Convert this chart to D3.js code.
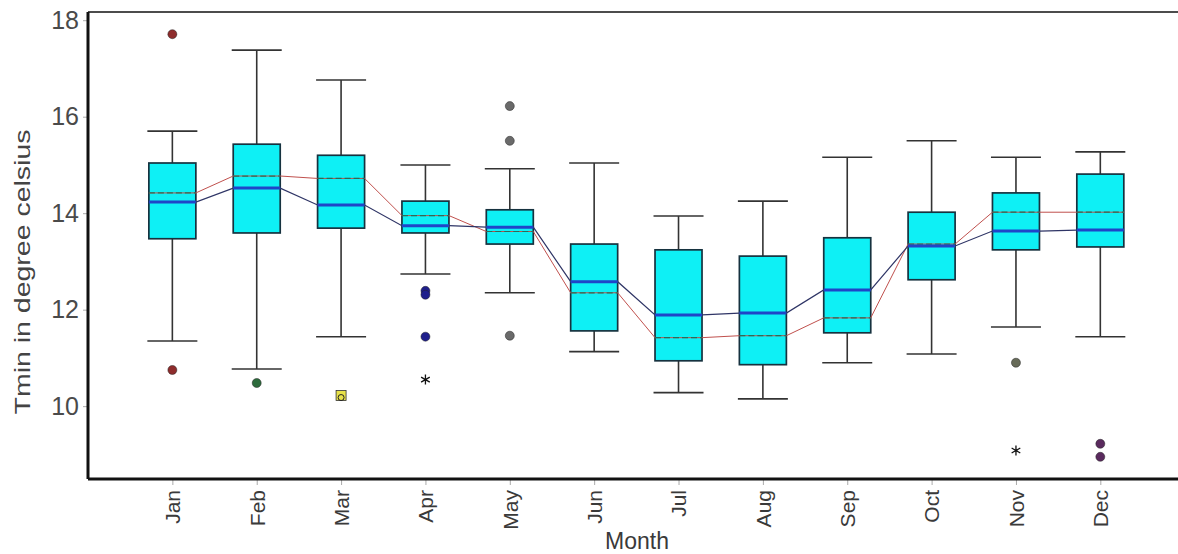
<!DOCTYPE html>
<html>
<head>
<meta charset="utf-8">
<script src="https://cdn.jsdelivr.net/npm/d3@7"></script>
<style>
  body { margin: 0; background: #fff; }
  svg text { font-family: "Liberation Sans", Arial, sans-serif; }
</style>
</head>
<body>
<div id="chart"></div>
<script>
// monthly Tmin box plot values
var months = ["Jan","Feb","Mar","Apr","May","Jun","Jul","Aug","Sep","Oct","Nov","Dec"];
var whiskerHigh = [15.70,17.38,16.76,15.00,14.92,15.04,13.94,14.25,15.16,15.50,15.16,15.27];
var q3          = [15.04,15.43,15.20,14.25,14.07,13.36,13.24,13.11,13.49,14.02,14.42,14.81];
var medians     = [14.23,14.52,14.17,13.74,13.71,12.58,11.89,11.93,12.41,13.32,13.63,13.65];
var means       = [14.42,14.77,14.72,13.95,13.62,12.35,11.42,11.46,11.83,13.36,14.02,14.02];
var q1          = [13.47,13.59,13.69,13.59,13.36,11.56,10.94,10.86,11.52,12.62,13.24,13.30];
var whiskerLow  = [11.35,10.77,11.44,12.74,12.35,11.13,10.28,10.15,10.90,11.08,11.64,11.44];

// outliers
var outMonth = ["Jan","Jan","Feb","Mar","Apr","Apr","Apr","Apr","May","May","May","Nov","Nov","Dec","Dec"];
var outValue = [17.71,10.75,10.48,10.22,12.39,12.31,11.44,10.55,16.22,15.50,11.46,10.90,9.08,9.22,8.95];
var outShape = ["circle","circle","circle","square","circle","circle","circle","star","circle","circle","circle","circle","star","circle","circle"];

var outColors = {Jan:"#8e2c2c",Feb:"#2d6b3c",Mar:"#e8e24a",Apr:"#1f1f8c",May:"#6a6a6a",Nov:"#676b58",Dec:"#5a2a5e"};

var W = 1178, H = 554;
var svg = d3.select("#chart").append("svg")
    .attr("width", W).attr("height", H);

var plotLeft = 88, plotTop = 12, plotBottom = 479;

var x = d3.scalePoint().domain(months).range([plotLeft, plotLeft + 13*84.36]).padding(1);
var y = d3.scaleLinear().domain([8.49, 18.17]).range([plotBottom, plotTop]);
var bw = 47;

// axes
var yAxis = svg.append("g").attr("transform","translate("+plotLeft+",0)")
    .call(d3.axisLeft(y).tickValues([10,12,14,16,18]).tickFormat(d3.format("d")).tickSize(5));
yAxis.select(".domain").remove();
yAxis.selectAll(".tick line").attr("stroke","#aaa");
yAxis.selectAll(".tick text").attr("font-size",25).attr("fill","#4a4a4a").attr("x",-9);

var xAxis = svg.append("g").attr("transform","translate(0,"+plotBottom+")")
    .call(d3.axisBottom(x).tickSize(6));
xAxis.select(".domain").remove();
xAxis.selectAll(".tick line").attr("stroke","#aaa");
xAxis.selectAll(".tick text")
    .attr("font-size",21).attr("fill","#3a3a3a")
    .attr("transform","rotate(-90)")
    .attr("text-anchor","end")
    .attr("x",-11).attr("y",0).attr("dy","0.35em");

// frame
svg.append("line").attr("x1",plotLeft).attr("x2",W).attr("y1",plotTop).attr("y2",plotTop)
    .attr("stroke","#111").attr("stroke-width",1.5);
svg.append("line").attr("x1",plotLeft).attr("x2",plotLeft).attr("y1",plotTop).attr("y2",plotBottom)
    .attr("stroke","#111").attr("stroke-width",3);
svg.append("line").attr("x1",plotLeft).attr("x2",W).attr("y1",plotBottom).attr("y2",plotBottom)
    .attr("stroke","#111").attr("stroke-width",3);

// axis titles
svg.append("text").attr("transform","translate(30,272) rotate(-90)")
    .attr("text-anchor","middle").attr("font-size",22).attr("fill","#444")
    .attr("textLength",285).attr("lengthAdjust","spacingAndGlyphs")
    .text("Tmin in degree celsius");
svg.append("text").attr("x", 637).attr("y",549)
    .attr("text-anchor","middle").attr("font-size",23).attr("fill","#3a3a3a")
    .text("Month");

var g = svg.append("g");

// whiskers
months.forEach(function(m,i){
  var cx = x(m);
  g.append("line").attr("x1",cx).attr("x2",cx).attr("y1",y(whiskerHigh[i])).attr("y2",y(q3[i]))
    .attr("stroke","#333").attr("stroke-width",1.6);
  g.append("line").attr("x1",cx).attr("x2",cx).attr("y1",y(q1[i])).attr("y2",y(whiskerLow[i]))
    .attr("stroke","#333").attr("stroke-width",1.6);
  g.append("line").attr("x1",cx-25).attr("x2",cx+25).attr("y1",y(whiskerHigh[i])).attr("y2",y(whiskerHigh[i]))
    .attr("stroke","#333").attr("stroke-width",1.6);
  g.append("line").attr("x1",cx-25).attr("x2",cx+25).attr("y1",y(whiskerLow[i])).attr("y2",y(whiskerLow[i]))
    .attr("stroke","#333").attr("stroke-width",1.6);
});

// boxes
g.selectAll("rect.box").data(months).enter().append("rect")
    .attr("class","box")
    .attr("x", function(d){ return x(d)-bw/2; })
    .attr("y", function(d,i){ return y(q3[i]); })
    .attr("width", bw)
    .attr("height", function(d,i){ return y(q1[i]) - y(q3[i]); })
    .attr("fill","#0ef0f5").attr("stroke","#16323f").attr("stroke-width",1.7);

// step-like line through each box
function stepPoints(vals){
  var pts = [];
  months.forEach(function(m,i){
    pts.push([x(m)-bw/2, y(vals[i])]);
    pts.push([x(m)+bw/2, y(vals[i])]);
  });
  return pts;
}
var line = d3.line();

// mean line
g.append("path").attr("d", line(stepPoints(means)))
    .attr("fill","none").attr("stroke","#c0504d").attr("stroke-width",1);
months.forEach(function(m,i){
  g.append("line").attr("x1",x(m)-bw/2).attr("x2",x(m)+bw/2)
    .attr("y1",y(means[i])).attr("y2",y(means[i]))
    .attr("stroke","#2e6a55").attr("stroke-width",1.2).attr("stroke-dasharray","6,3");
});

// median line
g.append("path").attr("d", line(stepPoints(medians)))
    .attr("fill","none").attr("stroke","#2f3566").attr("stroke-width",1.2);
months.forEach(function(m,i){
  g.append("line").attr("x1",x(m)-bw/2).attr("x2",x(m)+bw/2)
    .attr("y1",y(medians[i])).attr("y2",y(medians[i]))
    .attr("stroke","#1f45c8").attr("stroke-width",3);
});

// outliers
outValue.forEach(function(v,i){
  var cx = x(outMonth[i]), cy = y(v), c = outColors[outMonth[i]];
  if (outShape[i] == "circle") {
    g.append("circle").attr("cx",cx).attr("cy",cy).attr("r",4.5)
      .attr("fill",c).attr("stroke","#222").attr("stroke-width",0.5);
  } else if (outShape[i] == "square") {
    g.append("rect").attr("x",cx-5).attr("y",cy-5).attr("width",10).attr("height",10)
      .attr("fill",c).attr("stroke","#333").attr("stroke-width",0.8);
    g.append("circle").attr("cx",cx).attr("cy",cy+2).attr("r",3)
      .attr("fill","none").attr("stroke","#222").attr("stroke-width",1);
  } else {
    g.append("path").attr("d", d3.symbol().type(d3.symbolAsterisk).size(70)())
      .attr("transform","translate("+cx+","+cy+")")
      .attr("fill","none").attr("stroke","#111").attr("stroke-width",1.3);
  }
});
</script>
</body>
</html>
